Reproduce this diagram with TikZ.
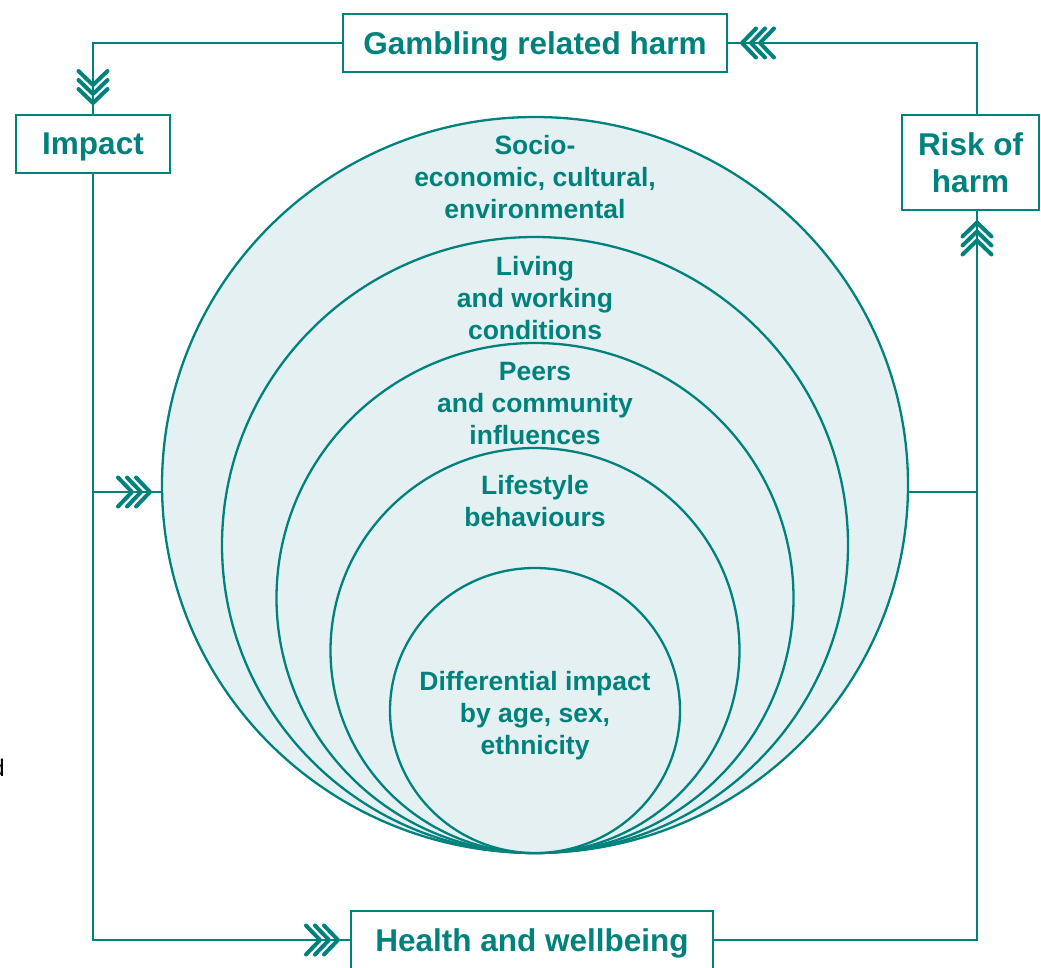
\documentclass[tikz,border=0pt]{standalone}
\usepackage{fontspec}
\setmainfont{Liberation Sans}
\usetikzlibrary{arrows.meta,shapes.geometric,decorations.markings}
\definecolor{tealc}{HTML}{00827C}
\definecolor{fillc}{HTML}{E5F0F2}
\begin{document}
\begin{tikzpicture}[x=1pt,y=-1pt,
  box/.style={draw=tealc, line width=2pt, inner sep=0pt, outer sep=0pt, align=center,
    font=\fontsize{31.5}{37}\selectfont\bfseries, text=tealc},
  ring/.style={ellipse, draw=tealc, fill=fillc, line width=2.3pt, inner sep=0pt, outer sep=0pt},
  lab/.style={font=\fontsize{26.5}{32}\selectfont\bfseries, text=tealc, align=center},
  conn/.style={draw=tealc, line width=2pt},
  chev/.tip={Straight Barb[length=14pt,width=29pt,line width=4pt,round]},
  tri/.style n args={3}{postaction={decorate}, decoration={markings,
     mark=at position -#1pt with {\arrow{chev}},
     mark=at position -#2pt with {\arrow{chev}},
     mark=at position -#3pt with {\arrow{chev}}}}
]
\useasboundingbox (0,0) rectangle (1041,968);

% rings
\node[ring, minimum width=746pt, minimum height=736pt] (c1) at (535,485) {};
\node[ring, minimum width=626pt, minimum height=616pt] (c2) at (535,545) {};
\node[ring, minimum width=517pt, minimum height=510pt] (c3) at (535,598) {};
\node[ring, minimum width=409pt, minimum height=405pt] (c4) at (535,650.5) {};
\node[ring, minimum width=290pt, minimum height=285pt] (c5) at (535,710.5) {};

\node[lab] (t1) at (535,177) {Socio-\\economic, cultural,\\environmental};
\node[lab] (t2) at (535,298) {Living\\and working\\conditions};
\node[lab] (t3) at (535,404) {Peers\\and community\\influences};
\node[lab] (t4) at (535,501.5) {Lifestyle\\behaviours};
\node[lab] (t5) at (535,716) {Differential impact\\by age, sex,\\ethnicity};

% boxes
\node[box, text depth=0pt, minimum width=384pt, minimum height=58pt] (g) at (535,43) {Gambling related harm};
\node[box, text depth=0pt, minimum width=154pt, minimum height=58pt] (imp) at (93,144) {Impact};
\node[box, minimum width=137pt, minimum height=95pt] (risk) at (970.5,163) {Risk of\\harm};
\node[box, text depth=0pt, minimum width=362pt, minimum height=58pt] (h) at (532,940) {Health and wellbeing};

\coordinate (rx) at (977,0);
\coordinate (jl) at (93,492);
\coordinate (jr) at (977,492);

% connectors
\draw[conn, tri={10}{19}{28}] (g.west) -| (imp.north);
\draw[conn, tri={13}{22}{31}] (risk.north -| rx) |- (g.east);
\draw[conn, tri={11}{20}{29}] (imp.south) |- (h.west);
\draw[conn, tri={10}{19}{28}] (h.east) -| (risk.south -| rx);
\draw[conn, tri={10}{19}{28}] (jl) -- (jl -| c1.west);
\draw[conn] (jr -| c1.east) -- (jr);

% cropped fragment at the left edge
\node[anchor=east, inner sep=0pt, font=\fontsize{24}{24}\selectfont] (frag) at (5,768) {d};
\end{tikzpicture}
\end{document}
